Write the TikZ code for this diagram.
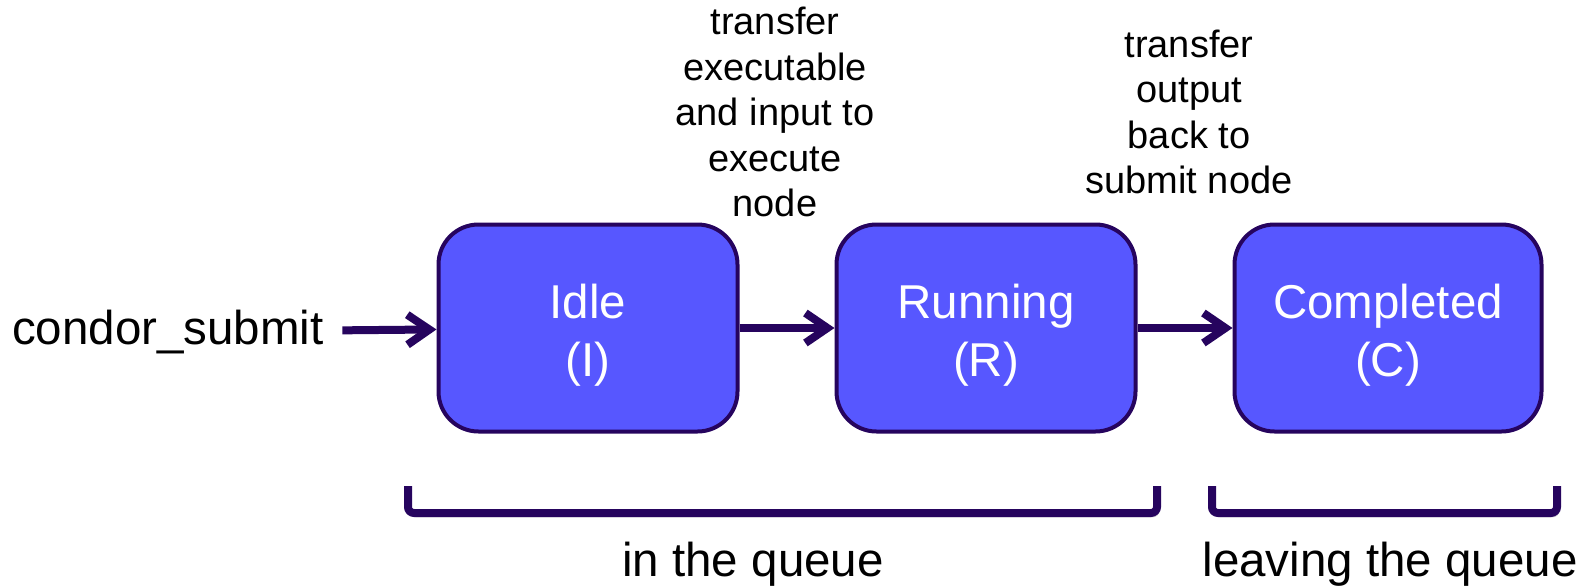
\documentclass[tikz,border=0pt]{standalone}
\usepackage{fontspec}
\setmainfont{Liberation Sans}
\usetikzlibrary{positioning}
\usetikzlibrary{arrows.meta}

\definecolor{jobblue}{RGB}{87,87,255}
\definecolor{jobpurple}{RGB}{38,4,94}

\begin{document}
\begin{tikzpicture}[x=1pt,y=-1pt,->,>={Straight Barb[length=22pt,width=30pt]},auto,node distance=95pt,
			semithick]
			\tikzstyle{jobstate}=[draw=jobpurple,fill=jobblue,line width=4pt,rounded corners=40pt,
			minimum width=299pt,minimum height=207pt,text=white,align=center,
			font=\fontsize{47.5}{58}\selectfont,execute at begin node={\rule{0pt}{107pt}}]
			\tikzstyle{flow}=[draw=jobpurple,line width=8pt]
			\tikzstyle{bracket}=[-,draw=jobpurple,line width=8pt,rounded corners=6pt,
			preaction={draw=black!15,transform canvas={xshift=2pt,yshift=-4pt}}]
			\tikzstyle{bigtext}=[font=\fontsize{47.5}{57}\selectfont]
			\tikzstyle{smalltext}=[align=center,font=\fontsize{38}{45.5}\selectfont]
			
			\useasboundingbox (0,0) rectangle (1591,587);
			
			\node[jobstate]                      (idle)      at (588,328)        {Idle\\(I)};
			\node[jobstate]                      (running)   [right=of idle]     {Running\\(R)};
			\node[jobstate,minimum width=307pt]  (completed) [right=of running]  {Completed\\(C)};
			
			\node[bigtext]       (submit)    at (168,332)        {condor\_submit};
			\node[smalltext]     (xferin)    at (775,112)        {transfer\\executable\\and input to\\execute\\node};
			\node[smalltext]     (xferout)   at (1189,112)       {transfer\\output\\back to\\submit node};
			
			\path (submit)  edge[flow,shorten <=15pt] (idle)
			(idle)    edge[flow]                 (running)
			(running) edge[flow]                 (completed)
			;
			
			% queue brackets
			\draw[bracket] (408,486) -- (408,513) -- (1157,513) -- (1157,486);
			\draw[bracket] (1212,486) -- (1212,513) -- (1557,513) -- (1557,486);
			
			\node[bigtext]       (inq)       at (753,564)        {in the queue};
			\node[bigtext]       (leaveq)    at (1390,564)       {leaving the queue};
\end{tikzpicture}
\end{document}
